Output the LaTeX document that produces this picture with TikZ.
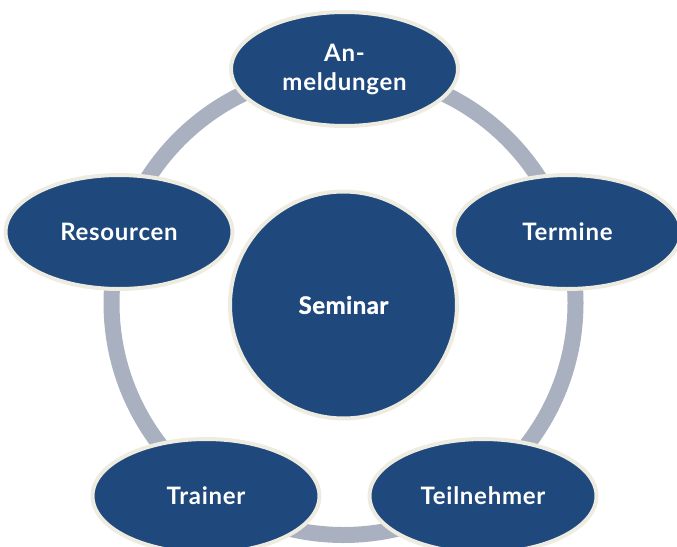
\documentclass[tikz,border=0pt]{standalone}
\usepackage{fontspec}
\setmainfont{Lato}[LetterSpace=3]
\newfontfamily\hubfont{Lato}[LetterSpace=2, BoldFeatures={FakeBold=1.2}]
\usetikzlibrary{shapes.geometric}
\definecolor{darkblue}{RGB}{31,73,125}
\definecolor{rimbeige}{RGB}{238,236,225}
\definecolor{ringgray}{RGB}{169,176,192}
\tikzset{
  bubble/.style={ellipse, draw=rimbeige, line width=4pt, fill=darkblue,
    minimum width=227pt, minimum height=114pt, inner sep=0pt,
    text=white, font=\fontsize{24}{29}\selectfont\bfseries, align=center},
  hub/.style={circle, draw=rimbeige, line width=4pt, fill=darkblue,
    minimum size=227pt, inner sep=0pt,
    text=white, font=\hubfont\fontsize{24}{29}\selectfont\bfseries}
}
\begin{document}
\begin{tikzpicture}[x=1pt,y=-1pt]
\useasboundingbox (0,0) rectangle (677,546);
\coordinate (ringc) at (343.5,303);
\draw[ringgray, line width=16pt] (ringc) circle[radius=232pt];
\node[hub] (seminar) at (343.5,305) {Seminar};
\node[bubble] (anm) at (344.5,69) {An-\\meldungen};
\node[bubble] (termine) at (567.5,232) {Termine};
\node[bubble] (teil) at (483,496) {Teilnehmer};
\node[bubble] (trainer) at (206,496) {Trainer};
\node[bubble] (res) at (119,232) {Resourcen};
\end{tikzpicture}
\end{document}
